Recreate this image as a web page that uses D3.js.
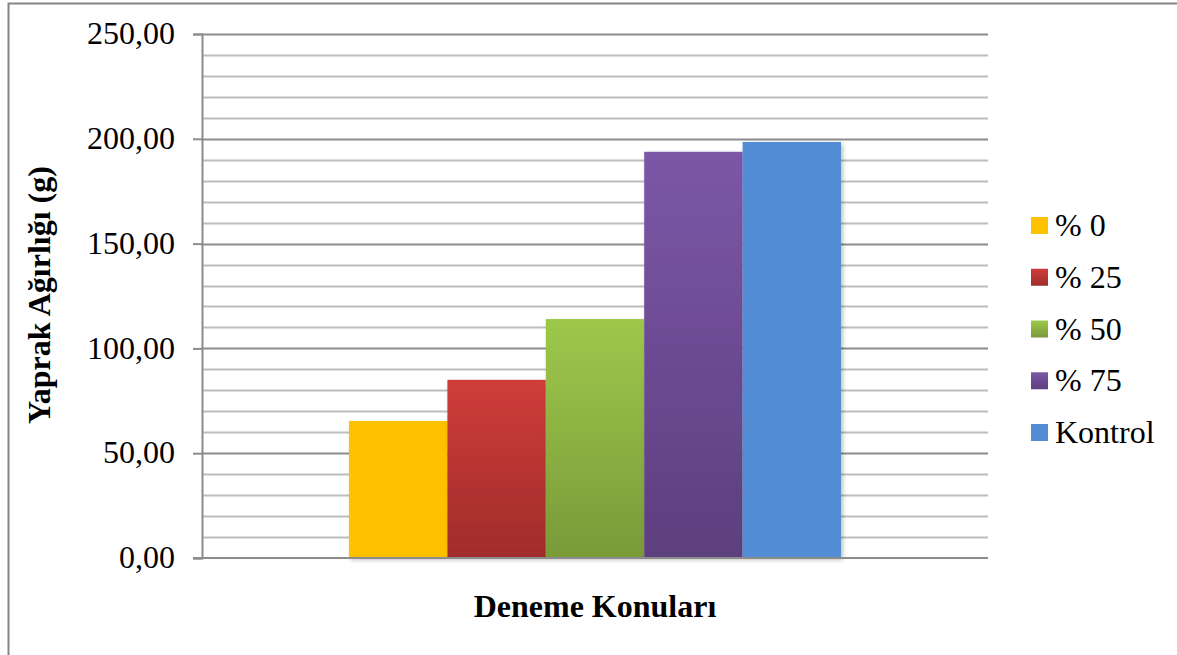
<!DOCTYPE html>
<html>
<head>
<meta charset="utf-8">
<script src="https://cdn.jsdelivr.net/npm/d3@7"></script>
<style>
  body { margin: 0; background: #fff; }
  text { font-family: "Liberation Serif", "Times New Roman", serif; }
</style>
</head>
<body>
<div id="chart"></div>
<script>
// data
const series = ["% 0", "% 25", "% 50", "% 75", "Kontrol"];
const values = [65.4, 85.0, 114.0, 193.8, 198.5];
const colorsTop = ["#FFC000", "#CF3D39", "#9DC84B", "#7B57A7", "#538DD6"];
const colorsBottom = ["#FFC000", "#A02C2B", "#7A9A39", "#5D3F7E", "#538DD6"];
const yTicks = [0, 50, 100, 150, 200, 250];

const W = 1177, H = 655;
const MARGIN = { LEFT: 202, RIGHT: 189, TOP: 34, BOTTOM: 97 };
const WIDTH = W - MARGIN.LEFT - MARGIN.RIGHT;
const HEIGHT = H - MARGIN.TOP - MARGIN.BOTTOM;

const svg = d3.select("#chart").append("svg")
    .attr("width", W)
    .attr("height", H);

// gradients + shadow
const defs = svg.append("defs");
series.forEach((s, i) => {
    const g = defs.append("linearGradient")
        .attr("id", "grad" + i)
        .attr("x1", 0).attr("y1", 0).attr("x2", 0).attr("y2", 1);
    g.append("stop").attr("offset", "0%").attr("stop-color", colorsTop[i]);
    g.append("stop").attr("offset", "100%").attr("stop-color", colorsBottom[i]);
});
const f = defs.append("filter").attr("id", "shadow")
    .attr("x", "-10%").attr("y", "-10%").attr("width", "130%").attr("height", "130%");
f.append("feDropShadow").attr("dx", 2).attr("dy", 2).attr("stdDeviation", 2)
    .attr("flood-color", "#000").attr("flood-opacity", 0.25);

// outer frame
svg.append("rect")
    .attr("x", 8.5).attr("y", 3.5)
    .attr("width", W).attr("height", H)
    .attr("fill", "none")
    .attr("stroke", "#858585")
    .attr("stroke-width", 2);

const g = svg.append("g")
    .attr("transform", `translate(${MARGIN.LEFT}, ${MARGIN.TOP})`);

const y = d3.scaleLinear().domain([0, 250]).range([HEIGHT, 0]);
const x = d3.scaleBand().domain(series).range([147, 639]).padding(0);

// minor gridlines
g.selectAll(".minor")
    .data(d3.range(10, 250, 10).filter(v => v % 50 !== 0))
    .join("line")
    .attr("class", "minor")
    .attr("x1", 0).attr("x2", WIDTH)
    .attr("y1", d => Math.round(y(d)) + 0.5).attr("y2", d => Math.round(y(d)) + 0.5)
    .attr("stroke", "#BDBDBD")
    .attr("stroke-width", 2);

// major gridlines
g.selectAll(".major")
    .data(yTicks.filter(v => v > 0))
    .join("line")
    .attr("class", "major")
    .attr("x1", 0).attr("x2", WIDTH)
    .attr("y1", d => Math.round(y(d)) + 0.5).attr("y2", d => Math.round(y(d)) + 0.5)
    .attr("stroke", "#8C8C8C")
    .attr("stroke-width", 2);

// bars
g.selectAll(".bar")
    .data(values)
    .join("rect")
    .attr("class", "bar")
    .attr("x", (d, i) => x(series[i]))
    .attr("width", x.bandwidth())
    .attr("y", d => y(d))
    .attr("height", d => HEIGHT - y(d))
    .attr("fill", (d, i) => `url(#grad${i})`)
    .attr("filter", "url(#shadow)");

// y axis
const yAxisCall = d3.axisLeft(y)
    .tickValues(yTicks)
    .tickSize(9)
    .tickPadding(18)
    .tickFormat(d => d3.format(".2f")(d).replace(".", ","));
const yAxis = g.append("g").attr("class", "y axis").call(yAxisCall);
yAxis.select(".domain").attr("stroke", "#8C8C8C").attr("stroke-width", 2);
yAxis.selectAll(".tick line").attr("stroke", "#8C8C8C").attr("stroke-width", 2);
yAxis.selectAll(".tick text")
    .attr("font-size", 32)
    .attr("dy", "0.3em")
    .attr("fill", "#000")
    .style("font-family", "'Liberation Serif', serif");

// x axis line
g.append("line")
    .attr("x1", -9).attr("x2", WIDTH)
    .attr("y1", HEIGHT).attr("y2", HEIGHT)
    .attr("stroke", "#8C8C8C")
    .attr("stroke-width", 2);

// axis titles
svg.append("text")
    .attr("transform", "translate(50, 295) rotate(-90)")
    .attr("text-anchor", "middle")
    .attr("font-size", 32)
    .attr("font-weight", "bold")
    .text("Yaprak Ağırlığı (g)");

svg.append("text")
    .attr("x", 595).attr("y", 617)
    .attr("text-anchor", "middle")
    .attr("font-size", 32)
    .attr("font-weight", "bold")
    .text("Deneme Konuları");

// legend
const legend = svg.append("g").attr("transform", "translate(1031, 225)");
const item = legend.selectAll(".item")
    .data(series)
    .join("g")
    .attr("class", "item")
    .attr("transform", (d, i) => `translate(0, ${i * 51.75})`);
item.append("rect")
    .attr("x", 0).attr("y", -8)
    .attr("width", 17).attr("height", 17)
    .attr("fill", (d, i) => `url(#grad${i})`);
item.append("text")
    .attr("x", 24).attr("y", 11)
    .attr("font-size", 32)
    .text(d => d);
</script>
</body>
</html>
